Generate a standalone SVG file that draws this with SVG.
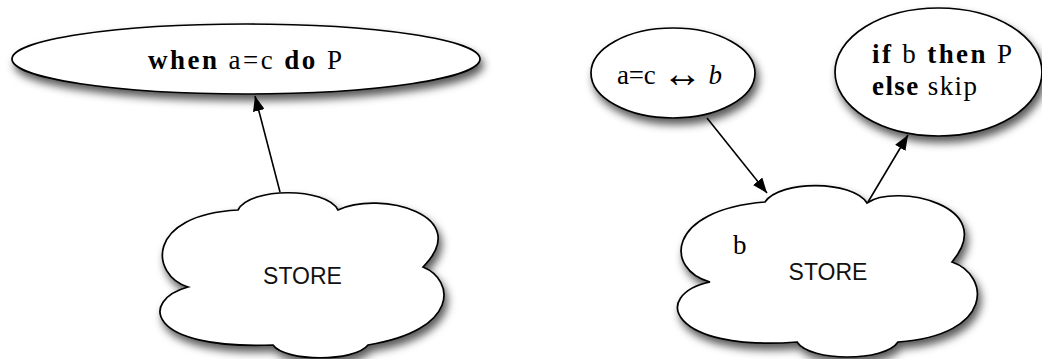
<svg xmlns="http://www.w3.org/2000/svg" width="1042" height="359" viewBox="0 0 1042 359">
<style>
.shape{fill:#fff;stroke:#000;stroke-width:1.7;filter:url(#sh)}
.serif{font-family:"Liberation Serif","Times New Roman",serif;font-size:27px;fill:#000}
.sans{font-family:"Liberation Sans",Arial,sans-serif;font-size:23px;fill:#111}
.b{font-weight:bold}
.arr{font-family:"Liberation Serif",serif;font-size:40px}
.conn{stroke:#000;stroke-width:1.6;fill:none;marker-end:url(#ah)}
</style>
<defs>
<filter id="sh" x="-20%" y="-20%" width="140%" height="150%">
<feDropShadow dx="3" dy="6" stdDeviation="4" flood-color="#000" flood-opacity="0.65"/>
</filter>
<marker id="ah" markerUnits="userSpaceOnUse" markerWidth="16" markerHeight="12" refX="15" refY="6" orient="auto">
<path d="M0,0 L15,6 L0,12 Z" fill="#000"/>
</marker>
</defs>
<g id="when-node">
<ellipse class="shape" cx="246" cy="59" rx="234" ry="35"/>
<text class="serif" x="148" y="69" textLength="194" lengthAdjust="spacing"><tspan class="b">when</tspan> a=c <tspan class="b">do</tspan> P</text>
</g>
<g id="store-left">
<path class="shape" d="M238,210 C250,187 326,187 338,210 C380,190 475,215 423,267 C455,280 460,330 368,345 C355,362 285,362 273,345 C145,350 140,300 188,287 C150,275 145,215 238,210 Z"/>
<text class="sans" x="302.5" y="284" text-anchor="middle">STORE</text>
</g>
<g id="equiv-node">
<ellipse class="shape" cx="673" cy="73" rx="82" ry="45"/>
<text class="serif" x="617" y="84" textLength="105" lengthAdjust="spacing">a=c <tspan class="arr" dy="3">↔</tspan> <tspan font-style="italic" dy="-3">b</tspan></text>
</g>
<g id="if-node">
<ellipse class="shape" cx="938.5" cy="72" rx="103.5" ry="64"/>
<text class="serif" x="872" y="63" textLength="140" lengthAdjust="spacing"><tspan class="b">if</tspan> b <tspan class="b">then</tspan> P</text>
<text class="serif" x="872" y="95" textLength="105" lengthAdjust="spacing"><tspan class="b">else</tspan> skip</text>
</g>
<g id="store-right">
<path class="shape" d="M765,202 C780,180 852,180 867,203 C895,183 1000,205 952,262 C990,275 995,335 898,342 C885,362 810,362 797,342 C670,352 650,295 710,282 C665,270 665,210 765,202 Z"/>
<text class="serif" x="733" y="254">b</text>
<text class="sans" x="828" y="280" text-anchor="middle">STORE</text>
</g>
<g id="connectors">
<line class="conn" x1="280" y1="192" x2="255" y2="96"/>
<line class="conn" x1="707" y1="118" x2="767" y2="193"/>
<line class="conn" x1="868" y1="202" x2="908" y2="135"/>
</g>
</svg>
